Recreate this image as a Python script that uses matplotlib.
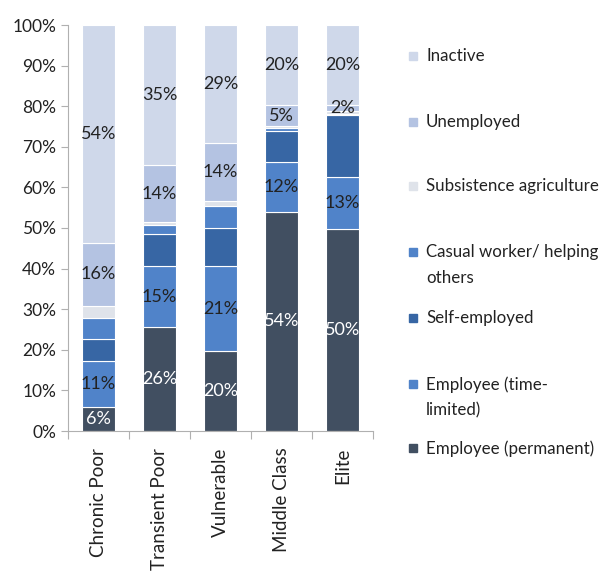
import matplotlib.pyplot as plt
from matplotlib.patches import Rectangle
import numpy as np

plt.rcParams['font.family'] = ['Lato', 'DejaVu Sans']

# groups and shares (%), bottom to top
groups = ["Chronic Poor", "Transient Poor", "Vulnerable", "Middle Class", "Elite"]
perm = [6.0, 25.6, 19.7, 54.0, 49.7]
time_lim = [11.3, 15.0, 20.9, 12.3, 12.9]
self_emp = [5.4, 7.9, 9.4, 7.5, 15.2]
casual = [5.1, 2.3, 5.5, 0.9, 0.4]
subsist = [3.0, 0.7, 1.2, 0.3, 0.6]
unemp = [15.6, 13.9, 14.2, 5.3, 1.5]
inactive = [53.6, 34.6, 29.1, 19.7, 19.7]

series = [perm, time_lim, self_emp, casual, subsist, unemp, inactive]
names = ["Employee (permanent)", "Employee (time-\nlimited)", "Self-employed",
         "Casual worker/ helping\nothers", "Subsistence agriculture",
         "Unemployed", "Inactive"]
colors = ["#414f61", "#5083c9", "#3766a4", "#5083c9", "#dfe3ea", "#b4c3e2", "#cfd8ea"]
labelled = [True, True, False, False, False, True, True]
txt_col = ["white", "#222222", "#222222", "#222222", "#222222", "#222222", "#222222"]

fig = plt.figure(figsize=(6.02, 5.75), dpi=100)
ax = fig.add_axes([68 / 602, 1 - 431 / 575, 305 / 602, 406 / 575])

x = np.arange(len(groups))
bottom = np.zeros(len(groups))
for vals, c, lab, tc in zip(series, colors, labelled, txt_col):
    vals = np.array(vals)
    ax.bar(x, vals, bottom=bottom, width=0.54, color=c, edgecolor="white", linewidth=0.8)
    if lab:
        for xi, b, v in zip(x, bottom, vals):
            ax.text(xi, b + v / 2, f"{round(v):.0f}%", ha="center", va="center",
                    fontsize=13, color=tc)
    bottom += vals

ax.set_xlim(-0.5, len(groups) - 0.5)
ax.set_ylim(0, 100)
ax.set_yticks(range(0, 101, 10))
ax.set_yticklabels([f"{v}%" for v in range(0, 101, 10)], fontsize=12.5, color="#222222")
ax.set_xticks(np.arange(-0.5, len(groups), 1))
ax.set_xticklabels([])
ax.set_xticks(x, minor=True)
ax.set_xticklabels(groups, minor=True, rotation=90, fontsize=13.5, color="#222222")
ax.tick_params(axis="x", which="minor", length=0, pad=12)
ax.tick_params(axis="x", which="major", length=6, color="#b0b0b0", direction="out")
ax.tick_params(axis="y", length=5, color="#b0b0b0", direction="out")
for s in ["top", "right"]:
    ax.spines[s].set_visible(False)
for s in ["left", "bottom"]:
    ax.spines[s].set_color("#b0b0b0")

# legend, drawn by hand (top to bottom)
leg_y = [56, 122, 186, 252, 318, 384, 448]
for name, c, y in zip(names[::-1], colors[::-1], leg_y):
    fig.add_artist(Rectangle((409 / 602, 1 - (y + 4) / 575), 8 / 602, 8 / 575,
                             transform=fig.transFigure, color=c))
    fig.text(426 / 602, 1 - (y - 8) / 575, name, ha="left", va="top", fontsize=12.2,
             color="#222222", linespacing=1.75)

fig.savefig("out.png", dpi=100)
